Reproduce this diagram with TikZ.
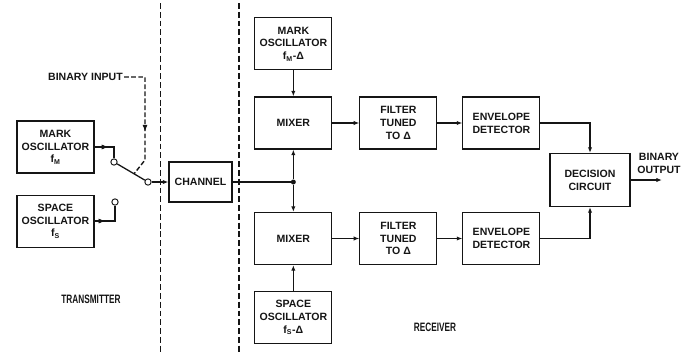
\documentclass[tikz,border=0pt]{standalone}
\usepackage{fontspec}
\setmainfont{Liberation Sans}
\usepackage{xcolor}
\definecolor{inkBlack}{HTML}{151515}
\definecolor{paperWhite}{HTML}{FFFFFF}
\usepackage{tikz}
\usetikzlibrary{
    arrows.meta,
    decorations.markings,
    positioning,
    calc
}
\tikzset{
    % Base style for all boxes
    block base/.style={
        font=\fontsize{9}{11}\selectfont\bfseries,
        align=center,
        text=inkBlack,
        inner sep=1pt,
    },
    % Plain square block
    block/.style={
        block base,
        rectangle,
        draw=inkBlack,
        line width=0.9pt,
        minimum width=2.31cm,
        minimum height=1.56cm,
    },
    % Smaller channel box
    chanbox/.style={
        block,
        minimum width=1.89cm,
        minimum height=1.2cm,
    },
    % Switch contacts
    contact/.style={
        circle,
        draw=inkBlack,
        fill=paperWhite,
        line width=0.8pt,
        minimum size=0.19cm,
        inner sep=0pt,
    },
    % Junction dot
    dot/.style={
        circle,
        fill=inkBlack,
        minimum size=0.15cm,
        inner sep=0pt,
    },
    % Plain wire
    wire/.style={
        line width=1.1pt,
        draw=inkBlack,
    },
    % Wire with tip at the end
    arrow/.style={
        wire,
        -{Latex[length=1.7mm, width=1.3mm]},
    },
    % Wire with tip somewhere along it
    mid arrow/.style={
        wire,
        postaction={decorate},
        decoration={markings,
            mark=at position #1 with {\arrow[inkBlack, line width=0.6pt]{Latex[length=2mm, width=1.5mm]}}},
    },
    % Dashed control line
    arrow dashed/.style={
        mid arrow=#1,
        line width=1.2pt,
        dash pattern=on 4pt off 2pt,
    },
    % Section dividers
    divider/.style={
        draw=inkBlack,
        line width=0.6pt,
        dash pattern=on 5pt off 2.5pt,
    },
    % Free labels
    tag label/.style={
        block base,
    },
    section label/.style={
        font=\fontsize{8}{9}\selectfont\bfseries,
        text=inkBlack,
    },
}

\begin{document}
\begin{tikzpicture}[node distance=0.78cm]
    \useasboundingbox (0,0) rectangle (20.7,-10.59);

    % transmitter
    \node (mark_osc) [block] at (1.665,-4.41) {MARK\\OSCILLATOR\\f\textsubscript{M}};
    \node (space_osc) [block, below=0.63cm of mark_osc] {SPACE\\OSCILLATOR\\f\textsubscript{S}};
    \node (mark_contact) [contact] at (3.42,-4.86) {};
    \node (space_contact) [contact] at (3.45,-6.06) {};
    \node (switch_out) [contact] at (4.44,-5.46) {};
    \node (bin_in) [tag label] at (2.565,-2.31) {BINARY INPUT};
    \coordinate (in_corner) at (4.35,-2.31);
    \coordinate (in_bend) at (4.35,-4.8);
    \coordinate (arm_hit) at ($(mark_contact)!0.59!(switch_out)$);
    \node (channel) [chanbox] at (6.015,-5.46) {CHANNEL};
    \node (tx_label) [section label] at (2.73,-8.97) {\scalebox{0.88}[1.3]{TRANSMITTER}};

    % receiver
    \node (rx_mixer_m) [block] at (8.8,-3.69) {MIXER};
    \node (rx_mark_osc) [block, above=of rx_mixer_m] {MARK\\OSCILLATOR\\f\textsubscript{M}-Δ};
    \node (filter_m) [block, right=0.81cm of rx_mixer_m] {FILTER\\TUNED\\TO Δ};
    \node (env_m) [block, right=0.75cm of filter_m] {ENVELOPE\\DETECTOR};
    \node (rx_mixer_s) [block] at (8.8,-7.155) {MIXER};
    \node (rx_space_osc) [block, below=of rx_mixer_s] {SPACE\\OSCILLATOR\\f\textsubscript{S}-Δ};
    \node (filter_s) [block, right=0.81cm of rx_mixer_s] {FILTER\\TUNED\\TO Δ};
    \node (env_s) [block, right=0.75cm of filter_s] {ENVELOPE\\DETECTOR};
    \node (decision) [block, minimum width=2.4cm, minimum height=1.59cm] at (17.7,-5.4) {DECISION\\CIRCUIT};
    \node (junction) [dot] at (rx_mixer_m |- channel) {};
    \coordinate (binary_out) at (19.86,-5.4);
    \node (out_label) [tag label] at (19.77,-4.9) {BINARY\\OUTPUT};
    \node (rx_label) [section label] at (13.05,-9.81) {\scalebox{0.88}[1.3]{RECEIVER}};

    % dividers
    \draw [divider] (4.8,-0.09) -- (4.8,-10.59);
    \draw [divider, line width=1.1pt] (7.17,-0.09) -- (7.17,-10.59);

    % transmitter wiring
    \draw [mid arrow=0.45] (mark_osc.east) -| (mark_contact);
    \draw [mid arrow=0.3] (space_osc.east) -| (space_contact);
    \draw [wire] (mark_contact) -- (switch_out);
    \draw [arrow dashed=0.62] (bin_in.east) -- (in_corner) -- (in_bend) -- (arm_hit);
    \draw [arrow] (switch_out) -- (channel);

    % receiver wiring
    \draw [wire] (channel) -- (junction);
    \draw [arrow] (junction) -- (rx_mixer_m);
    \draw [arrow] (junction) -- (rx_mixer_s);
    \draw [arrow] (rx_mark_osc) -- (rx_mixer_m);
    \draw [arrow] (rx_space_osc) -- (rx_mixer_s);
    \draw [arrow] (rx_mixer_m) -- (filter_m);
    \draw [arrow] (filter_m) -- (env_m);
    \draw [arrow] (rx_mixer_s) -- (filter_s);
    \draw [arrow] (filter_s) -- (env_s);
    \draw [arrow] (env_m.east) -| (decision.north);
    \draw [arrow] (env_s.east) -| (decision.south);
    \draw [arrow] (decision) -- (binary_out);
\end{tikzpicture}
\end{document}
